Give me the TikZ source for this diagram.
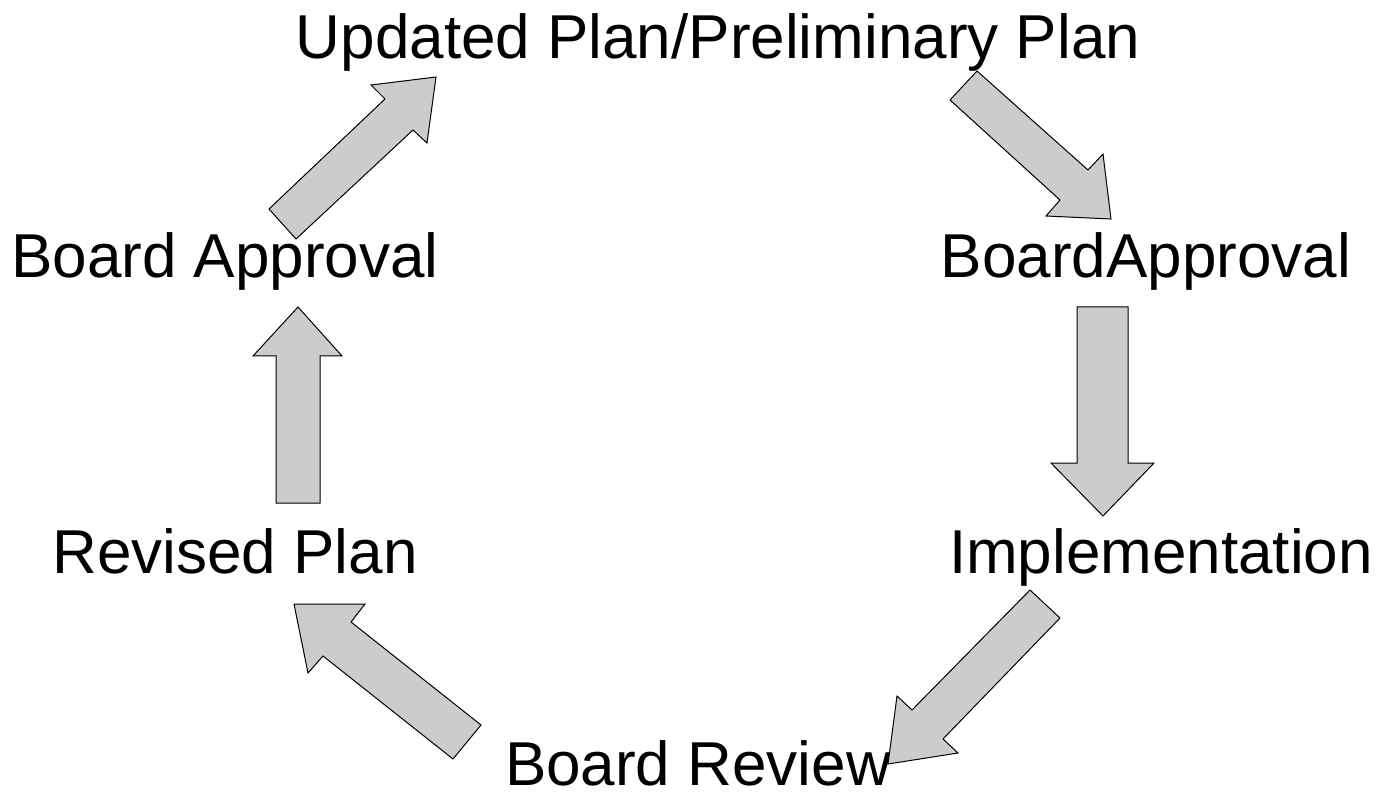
\documentclass[tikz,border=0pt]{standalone}
\usepackage{fontspec}
\setmainfont{Liberation Sans}
\begin{document}
\begin{tikzpicture}[x=1pt,y=-1pt,
  label/.style={anchor=base,inner sep=0pt,font=\fontsize{62}{74}\selectfont},
  blockarrow/.style={draw=black,fill=arrowgray,line width=1pt,line join=miter}]
\definecolor{arrowgray}{HTML}{CCCCCC}
\useasboundingbox (0,0) rectangle (1379,799);

% stage labels
\node[label] (plan)    at (718,59)  {Updated Plan/Preliminary Plan};
\node[label] (approvR) at (1146,278) {BoardApproval};
\node[label] (impl)    at (1161,573) {Implementation};
\node[label] (review)  at (698,785) {Board Review};
\node[label] (revised) at (235,573) {Revised Plan};
\node[label] (approvL) at (225,278) {Board Approval};

% block arrows around the cycle
\draw[blockarrow] (977,71) -- (950,100) -- (1060,200) -- (1046,216) -- (1111,219) -- (1103,154) -- (1088,170) -- cycle;
\draw[blockarrow] (1077,307) -- (1128,307) -- (1128,463) -- (1154,463) -- (1103,516) -- (1051,463) -- (1077,463) -- cycle;
\draw[blockarrow] (1030,590) -- (1060,618) -- (943,739) -- (958,753) -- (888,764) -- (897,696) -- (912,710) -- cycle;
\draw[blockarrow] (481,725) -- (453,759) -- (323,656) -- (308,673) -- (294,604) -- (365,604) -- (351,622) -- cycle;
\draw[blockarrow] (276,503) -- (320,503) -- (320,356) -- (342,356) -- (298,307) -- (253,356) -- (276,356) -- cycle;
\draw[blockarrow] (269,209) -- (385,99) -- (371,85) -- (436,77) -- (427,143) -- (413,130) -- (296,239) -- cycle;
\end{tikzpicture}
\end{document}
